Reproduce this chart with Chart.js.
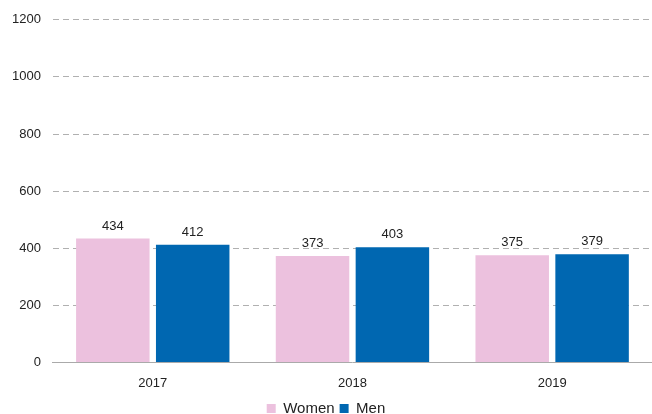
<!DOCTYPE html>
<html>
<head>
<meta charset="utf-8">
<script src="https://cdn.jsdelivr.net/npm/chart.js@4/dist/chart.umd.min.js"></script>
<style>
  html, body { margin: 0; padding: 0; background: #fff; }
  #wrap { width: 652px; height: 414px; }
</style>
</head>
<body>
<div id="wrap"><canvas id="genderChart"></canvas></div>
<script>
// ---- data ----
const years = ['2017', '2018', '2019'];
const women = [434, 373, 375];
const men = [412, 403, 379];
const yTicks = [0, 200, 400, 600, 800, 1000, 1200];

const FONT = '"Liberation Sans", Arial, sans-serif';

// draw value labels above each bar
const barValues = {
    id: 'barValues',
    afterDatasetsDraw(chart) {
        const ctx = chart.ctx;
        ctx.save();
        ctx.font = '13px ' + FONT;
        ctx.fillStyle = '#222';
        ctx.textAlign = 'center';
        ctx.textBaseline = 'bottom';
        chart.data.datasets.forEach((ds, i) => {
            chart.getDatasetMeta(i).data.forEach((bar, j) => {
                ctx.fillText(ds.data[j], bar.x, bar.y - 6);
            });
        });
        ctx.restore();
    },
};

document.addEventListener('DOMContentLoaded', function () {
    new Chart(document.getElementById('genderChart'), {
        type: 'bar',
        data: {
            labels: years,
            datasets: [
                { label: 'Women', data: women, backgroundColor: '#ecc1de' },
                { label: 'Men', data: men, backgroundColor: '#0067b1' },
            ],
        },
        options: {
            responsive: true,
            maintainAspectRatio: false,
            animation: false,
            categoryPercentage: 0.8,
            barPercentage: 0.92,
            layout: { padding: { top: 12, right: 0, left: 0, bottom: -12 } },
            plugins: {
                legend: {
                    position: 'bottom',
                    labels: {
                        boxWidth: 9, boxHeight: 9, padding: 5,
                        color: '#222',
                        font: { size: 15, family: FONT },
                    },
                },
                tooltip: { enabled: false },
            },
            scales: {
                y: {
                    min: 0, max: 1200,
                    afterBuildTicks: axis => { axis.ticks = yTicks.map(v => ({ value: v })); },
                    ticks: {
                        color: '#222', padding: 12,
                        font: { size: 13, family: FONT },
                        callback: v => String(v),
                    },
                    grid: { color: '#b0b0b0', drawTicks: false },
                    border: { display: false, dash: [6, 4] },
                },
                x: {
                    ticks: { color: '#222', padding: 5, font: { size: 13, family: FONT } },
                    grid: { display: false },
                    border: { color: '#aaa', width: 1 },
                },
            },
        },
        plugins: [barValues],
    });
});
</script>
</body>
</html>
